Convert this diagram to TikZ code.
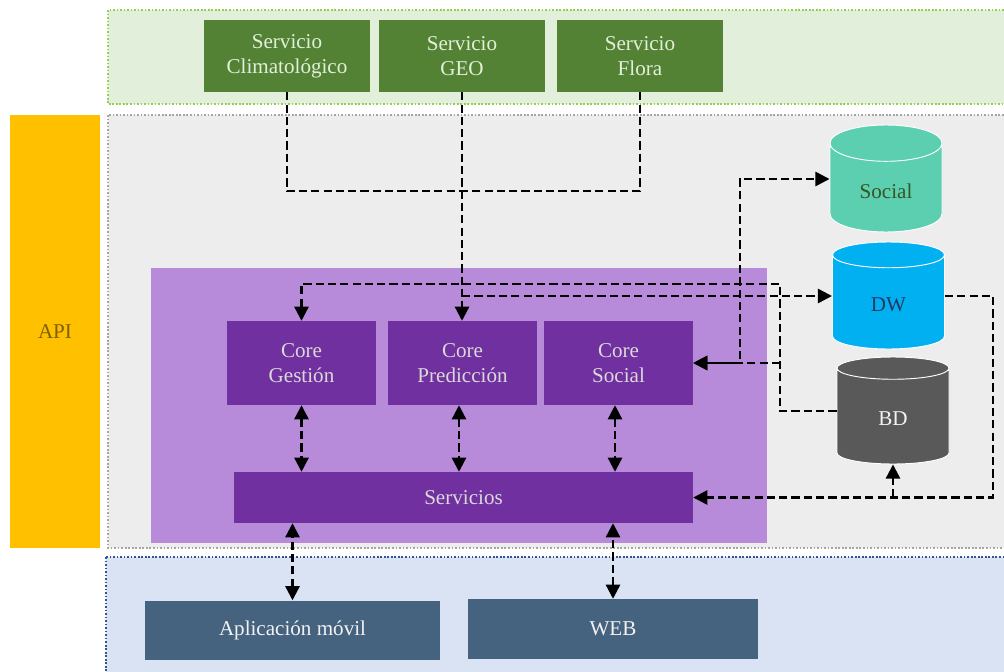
\documentclass[tikz,border=0pt]{standalone}
\usepackage{fontspec}
\setmainfont{Liberation Serif}
\usetikzlibrary{shapes.geometric, arrows.meta, positioning}
\usepackage{xcolor}

\definecolor{extgreen}{HTML}{548235}
\definecolor{bandgreen}{HTML}{E2EFDA}
\definecolor{dotgreen}{HTML}{92D050}
\definecolor{bandgray}{HTML}{EDEDED}
\definecolor{dotgray}{HTML}{A5A5A5}
\definecolor{bandblue}{HTML}{DAE3F3}
\definecolor{dotblue}{HTML}{2F5597}
\definecolor{apiyellow}{HTML}{FFC000}
\definecolor{apitext}{HTML}{7F6000}
\definecolor{corearea}{HTML}{B78ADA}
\definecolor{corepurple}{HTML}{7030A0}
\definecolor{frontblue}{HTML}{45627F}
\definecolor{dbsocial}{HTML}{5BCFB0}
\definecolor{dbsocialtext}{HTML}{375623}
\definecolor{dbdw}{HTML}{00B0F0}
\definecolor{dbdwtext}{HTML}{1F3864}
\definecolor{dbbd}{HTML}{595959}

\begin{document}
\begin{tikzpicture}[
  x=0.03cm, y=-0.03cm,
  every node/.style={font=\fontsize{18}{21.5}\selectfont},
  band/.style={line width=1.4pt, dash pattern=on 1.4pt off 1.6pt},
  ext/.style={rectangle, minimum width=4.98cm, minimum height=2.16cm,
    align=center, fill=extgreen, text=bandgreen},
  core/.style={rectangle, minimum width=4.47cm, minimum height=2.52cm,
    align=center, fill=corepurple, text=black!15},
  front/.style={rectangle, minimum height=1.77cm,
    align=center, fill=frontblue, text=white!95!black},
  db/.style={cylinder, shape border rotate=90, aspect=0.6, anchor=shape center,
    minimum width=3.36cm, minimum height=3.21cm, draw=white, line width=0.8pt},
  link/.style={line width=2pt, dash pattern=on 7pt off 3.5pt},
  arrow/.style={link, -{Triangle[length=12pt, width=12pt]}},
  twoway/.style={link, {Triangle[length=12pt, width=12pt]}-{Triangle[length=12pt, width=12pt]}}
]
\useasboundingbox (0,0) rectangle (1004,672);

% bands
\draw[band, fill=bandgreen, draw=dotgreen] (108,10) rectangle (1012,104);
\draw[band, fill=bandgray, draw=dotgray] (108,115) rectangle (1012,548);
\draw[band, fill=bandblue, draw=dotblue] (106,557) rectangle (1012,680);
\fill[corearea] (151,268) rectangle (767,543);

\node[rectangle, fill=apiyellow, text=apitext, minimum width=2.7cm, minimum height=12.99cm]
  (api) at (55,331.5) {API};

% external services
\node[ext] (clima) at (287,56) {Servicio\\Climatológico};
\node[ext] (geo) at (462,56) {Servicio\\GEO};
\node[ext] (flora) at (640,56) {Servicio\\Flora};

% cores
\node[core] (gestion) at (301.5,363) {Core\\Gestión};
\node[core] (predic) at (462.5,363) {Core\\Predicción};
\node[core] (csocial) at (618.5,363) {Core\\Social};
\node[core, minimum width=13.77cm, minimum height=1.53cm] (servicios) at (463.5,497.5) {Servicios};

% front ends
\node[front, minimum width=8.85cm] (app) at (292.5,630) {Aplicación móvil};
\node[front, minimum width=8.7cm, minimum height=1.8cm] (web) at (613,629) {WEB};

% data stores
\node[db, fill=dbsocial, text=dbsocialtext] (social) at (886,178.5) {Social};
\node[db, fill=dbdw, text=dbdwtext] (dw) at (888.5,295.5) {DW};
\node[db, fill=dbbd, text=white!95!black] (bd) at (893,410.5) {BD};

% connectors
\coordinate (join) at (462,191);
\coordinate (pd) at (462,296);
\coordinate (bdturn) at (780,284);
\coordinate (bdin) at (780,411);
\coordinate (sturn) at (740,179);
\coordinate (dwturn) at (993,497);

\draw[link] (clima.south) |- (join);
\draw[link] (flora.south) |- (join);
\draw[arrow] (geo.south) -- (geo.south |- predic.north);
\draw[arrow] (pd) -- (pd -| dw.west);
\draw[arrow] (bdin -| bd.west) -- (bdin) |- (bdturn) -| (gestion.north);
\draw[arrow] (bdturn |- csocial.east) -- (csocial.east);
\draw[twoway] (csocial.east) -| (sturn) -- (sturn -| social.west);
\draw[arrow] (pd -| dw.east) -| (dwturn) |- (servicios.east);
\draw[arrow] (bd.south |- dwturn) -- (bd.south);

\draw[twoway] (gestion.south) -- (gestion.south |- servicios.north);
\draw[twoway] ([xshift=-3.5*0.03cm]predic.south) -- ([xshift=-3.5*0.03cm]predic.south |- servicios.north);
\draw[twoway] ([xshift=-3.5*0.03cm]csocial.south) -- ([xshift=-3.5*0.03cm]csocial.south |- servicios.north);
\draw[twoway] (app.north) -- (app.north |- servicios.south);
\draw[twoway] (web.north) -- (web.north |- servicios.south);

\end{tikzpicture}
\end{document}
